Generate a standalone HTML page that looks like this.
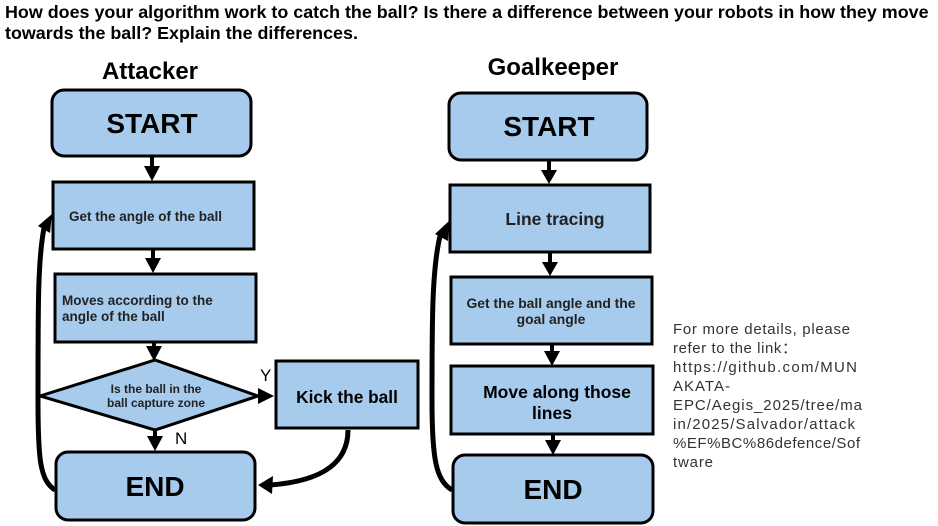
<!DOCTYPE html>
<html><head><meta charset="utf-8"><style>
html,body{margin:0;padding:0;background:#fff;}
svg{display:block;}
text{font-family:"Liberation Sans",Arial,sans-serif;}
</style></head><body>
<svg width="938" height="526" viewBox="0 0 938 526" xmlns="http://www.w3.org/2000/svg">
<g font-weight="bold" font-size="17.9" fill="#000">
<text x="5" y="18">How does your algorithm work to catch the ball? Is there a difference between your robots in how they move</text>
<text x="5" y="39">towards the ball? Explain the differences.</text>
</g>
<text x="150" y="79" font-size="24" font-weight="bold" text-anchor="middle">Attacker</text>
<text x="553" y="75" font-size="24" font-weight="bold" text-anchor="middle">Goalkeeper</text>

<g fill="#a7cbec" stroke="#000" stroke-width="3">
<rect x="52" y="90" width="199" height="66" rx="12"/>
<rect x="53" y="182" width="201" height="67"/>
<rect x="55" y="274" width="201" height="68"/>
<polygon points="40,396 155,360 258,396 155,430"/>
<rect x="276" y="361" width="142" height="67"/>
<rect x="56" y="452" width="199" height="68" rx="12"/>

<rect x="449" y="93" width="198" height="67" rx="12"/>
<rect x="450" y="185" width="200" height="67"/>
<rect x="451" y="277" width="201" height="67"/>
<rect x="451" y="366" width="202" height="68"/>
<rect x="453" y="455" width="200" height="68" rx="12"/>
</g>

<g fill="#000" stroke="#000">
<g stroke-width="4">
<line x1="152" y1="156" x2="152" y2="168"/>
<line x1="153" y1="249" x2="153" y2="260"/>
<line x1="154" y1="342" x2="154" y2="350"/>
<line x1="155" y1="430" x2="155" y2="440"/>
<line x1="258" y1="396" x2="262" y2="396"/>
<line x1="549" y1="160" x2="549" y2="172"/>
<line x1="550" y1="252" x2="550" y2="264"/>
<line x1="552" y1="344" x2="552" y2="354"/>
<line x1="553" y1="434" x2="553" y2="443"/>
</g>
<g stroke="none">
<polygon points="144,166 160,166 152,181"/>
<polygon points="145,258 161,258 153,273"/>
<polygon points="146,346 162,346 154,361"/>
<polygon points="147,436 163,436 155,451"/>
<polygon points="258,388 274,396 258,404"/>
<polygon points="541,170 557,170 549,184"/>
<polygon points="542,262 558,262 550,276"/>
<polygon points="544,351 560,351 552,366"/>
<polygon points="545,440 561,440 553,455"/>
</g>
<path d="M348,430 C348,470 310,482 270,485" fill="none" stroke-width="5"/>
<polygon points="258,485 273,476 272,494" stroke="none"/>
<path d="M55,490 C40,480 38,460 38,400 C38,300 38,260 44,228" fill="none" stroke-width="5"/>
<polygon points="52,214 50,233 38,226" stroke="none"/>
<path d="M452,490 C436,480 432,460 432,400 C432,320 432,270 440,236" fill="none" stroke-width="5"/>
<polygon points="449,221 448,241 435,234" stroke="none"/>
</g>

<g font-weight="bold" text-anchor="middle">
<text x="152" y="133" font-size="28">START</text>
<text x="549" y="136" font-size="28">START</text>
<text x="155" y="496" font-size="28">END</text>
<text x="553" y="499" font-size="28">END</text>
<text x="347" y="403" font-size="17.3">Kick the ball</text>
<text x="555" y="225" font-size="17.5" fill="#222">Line tracing</text>
<text x="557" y="398" font-size="17.5">Move along those</text>
<text x="552" y="419" font-size="17.5">lines</text>
<text x="551" y="308" font-size="13.9" fill="#222">Get the ball angle and the</text>
<text x="551" y="324" font-size="13.9" fill="#222">goal angle</text>
<text x="156" y="393" font-size="12" fill="#222">Is the ball in the</text>
<text x="156" y="407" font-size="12" fill="#222">ball capture zone</text>
</g>
<g font-weight="bold" font-size="13.5" fill="#222">
<text x="69" y="221">Get the angle of the ball</text>
<text x="62" y="305">Moves according to the</text>
<text x="62" y="321">angle of the ball</text>
</g>
<text x="260" y="381" font-size="17">Y</text>
<text x="175" y="444" font-size="17">N</text>
<g font-size="15" fill="#333" lengthAdjust="spacing">
<text x="673" y="334" textLength="177">For more details, please</text>
<text x="673" y="353" textLength="124">refer to the link：</text>
<text x="673" y="372" textLength="184">https://github.com/MUN</text>
<text x="673" y="391" textLength="57">AKATA-</text>
<text x="673" y="410" textLength="189">EPC/Aegis_2025/tree/ma</text>
<text x="673" y="429" textLength="182">in/2025/Salvador/attack</text>
<text x="673" y="448" textLength="187">%EF%BC%86defence/Sof</text>
<text x="673" y="467" textLength="40">tware</text>
</g>
</svg>
</body></html>
